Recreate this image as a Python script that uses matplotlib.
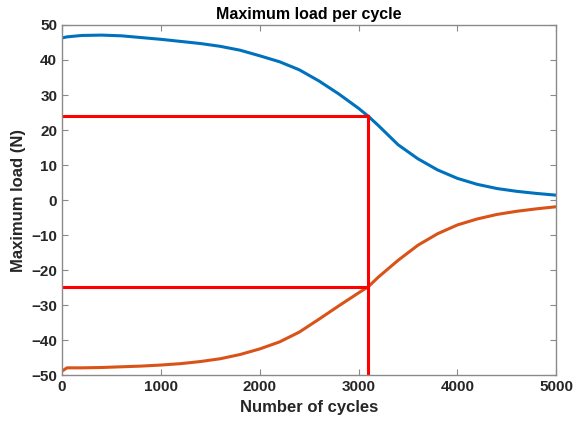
import matplotlib
matplotlib.use("Agg")
import matplotlib.pyplot as plt

# values
cycles = [0, 50, 200, 400, 600, 800, 1000, 1200, 1400, 1600, 1800, 2000,
          2200, 2400, 2600, 2800, 3000, 3100, 3200, 3400, 3600, 3800, 4000,
          4200, 4400, 4600, 4800, 5000]
max_load = [46.3, 46.6, 47.0, 47.1, 46.9, 46.4, 45.9, 45.3, 44.7, 43.9, 42.8,
            41.2, 39.5, 37.2, 34.0, 30.3, 26.2, 23.9, 21.3, 15.8, 11.8, 8.6,
            6.2, 4.5, 3.3, 2.5, 1.9, 1.4]
min_load = [-48.8, -47.9, -47.9, -47.8, -47.6, -47.4, -47.1, -46.7, -46.1,
            -45.3, -44.1, -42.5, -40.5, -37.7, -34.0, -30.2, -26.5, -24.7,
            -22.0, -17.2, -12.9, -9.6, -7.1, -5.4, -4.1, -3.2, -2.5, -1.9]

marker_cycle = 3100
marker_upper = 23.9
marker_lower = -24.7

plt.rcParams["font.family"] = ["Liberation Sans", "DejaVu Sans"]
plt.rcParams["font.weight"] = "bold"

fig = plt.figure(figsize=(5.8, 4.23), dpi=100)
ax = fig.add_axes([0.107, 0.113, 0.852, 0.828])

ax.plot(cycles, max_load, color="#0072BD", linewidth=2.2)
ax.plot(cycles, min_load, color="#D95319", linewidth=2.2)

ax.plot([0, marker_cycle], [marker_upper, marker_upper], color="red", linewidth=2.2)
ax.plot([0, marker_cycle], [marker_lower, marker_lower], color="red", linewidth=2.2)
ax.plot([marker_cycle, marker_cycle], [-50, marker_upper], color="red", linewidth=2.2)

ax.set_xlim(0, 5000)
ax.set_ylim(-50, 50)
ax.set_xticks(range(0, 5001, 1000))
ax.set_yticks(range(-50, 51, 10))

for spine in ax.spines.values():
    spine.set_color("#8a8a8a")
    spine.set_linewidth(1.0)
ax.tick_params(direction="in", top=True, right=True, length=4, width=0.8,
               color="#8a8a8a", labelsize=11, labelcolor="#262626")

ax.set_title("Maximum load per cycle", fontsize=11.5, fontweight="bold", pad=4)
ax.set_xlabel("Number of cycles", fontsize=12, fontweight="bold", color="#262626")
ax.set_ylabel("Maximum load (N)", fontsize=12, fontweight="bold", color="#262626")

fig.savefig("out.png", dpi=100, facecolor="white")
